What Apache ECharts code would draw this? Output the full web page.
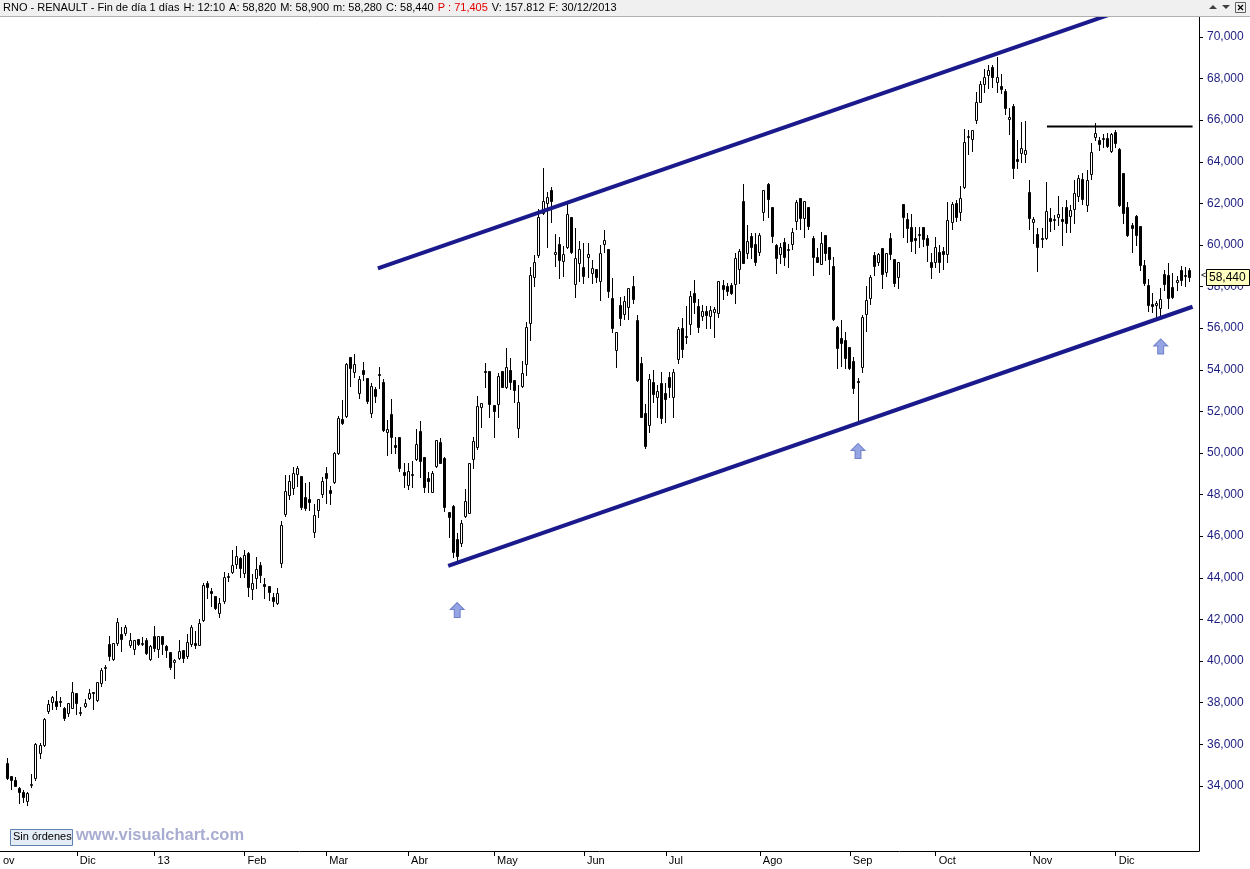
<!DOCTYPE html>
<html><head><meta charset="utf-8">
<script src="https://cdn.jsdelivr.net/npm/echarts@6/dist/echarts.min.js"></script>
<style>html,body{margin:0;padding:0;background:#fff}#c{width:1250px;height:869px}</style>
</head><body><div id="c"></div>
<script>
// ---- data (thousands of EUR) ----
const O = [35.08,34.47,34.26,33.91,33.72,33.25,34.05,34.36,35.56,35.94,37.58,38.01,38.08,38.08,37.74,37.52,37.76,38.44,37.56,37.85,38.24,38.51,38.14,38.93,39.68,40.82,40.10,40.88,41.30,41.33,40.78,40.56,41.04,40.85,41.01,40.08,41.20,40.56,41.20,40.74,40.43,39.94,40.15,40.53,40.24,40.80,40.85,40.77,41.97,43.77,43.37,43.13,42.32,42.89,44.05,44.30,44.65,44.97,44.22,45.21,43.45,44.01,44.61,43.70,43.61,43.09,42.80,44.73,47.07,48.00,48.30,48.98,48.89,47.87,47.77,46.20,47.26,48.03,49.02,48.22,48.59,50.02,51.64,51.80,54.63,53.91,52.87,53.99,53.59,51.91,53.06,53.78,53.40,50.99,51.88,50.38,50.75,49.10,48.46,48.98,49.73,51.07,49.82,48.80,48.14,49.39,50.51,49.77,47.16,47.45,45.86,45.66,46.99,47.13,49.70,50.27,52.20,53.96,53.94,52.29,52.35,53.94,53.16,53.99,53.51,51.19,53.24,54.26,56.24,58.45,59.52,61.55,62.00,62.64,59.55,60.03,59.25,59.89,61.33,58.11,59.15,58.96,59.44,58.67,58.83,58.29,60.03,59.79,57.44,54.95,57.12,56.68,57.00,58.03,56.39,54.31,51.91,51.35,53.40,52.71,53.35,52.88,53.67,52.71,54.50,55.99,55.63,56.19,57.71,57.07,56.60,56.83,56.60,56.80,56.75,58.08,58.03,58.08,58.11,58.83,62.12,59.60,60.43,60.05,59.68,61.60,62.93,61.81,60.00,59.57,60.16,59.78,60.03,61.15,62.24,61.28,61.81,60.32,59.41,59.07,60.48,59.92,58.99,56.07,55.51,55.43,55.11,54.42,53.46,54.15,56.67,57.44,59.52,59.20,59.84,58.72,60.32,59.31,58.48,61.97,61.23,60.85,60.35,60.53,60.88,60.32,59.20,59.20,59.68,59.71,59.55,61.12,62.00,61.57,62.77,65.20,65.08,66.01,66.89,67.74,68.17,68.57,67.85,67.64,67.40,66.04,66.70,64.12,64.44,64.36,62.56,61.12,60.53,60.35,60.32,61.28,61.25,61.36,61.25,61.84,61.39,61.73,62.36,63.17,61.92,63.40,65.21,65.05,65.10,65.13,64.52,65.45,64.60,63.48,61.81,60.96,61.41,60.91,59.04,58.08,57.15,57.12,56.96,58.61,58.56,57.99,58.21,58.80,58.56,58.82];
const H = [35.32,34.47,34.42,33.96,33.80,33.70,34.56,36.04,36.04,37.27,38.12,38.32,38.56,38.25,37.80,38.00,38.99,38.44,37.80,38.17,38.65,38.52,38.97,39.66,39.81,41.20,40.88,42.08,41.65,41.73,41.33,40.99,41.04,41.14,41.09,40.78,41.68,41.20,41.20,40.77,40.43,40.08,41.01,40.53,41.30,41.73,41.44,42.00,43.73,43.85,43.49,43.13,43.01,44.26,44.22,45.34,45.53,45.02,45.34,45.24,44.18,45.02,44.78,43.97,43.61,43.25,43.49,46.73,48.94,48.94,49.34,49.38,48.89,48.54,48.62,47.55,47.77,48.86,49.34,48.43,50.06,51.78,52.55,54.34,54.63,54.76,53.72,54.39,53.62,53.35,53.19,54.15,53.56,51.59,52.60,50.75,50.75,49.50,49.50,49.61,51.14,51.55,49.82,49.10,49.15,50.62,50.70,49.82,47.16,47.50,46.14,46.78,48.25,49.50,50.78,52.74,52.39,54.31,53.94,52.29,53.86,53.94,55.03,54.55,53.51,53.27,54.42,56.31,58.96,59.52,61.72,63.69,62.56,62.80,60.53,60.37,59.95,62.00,61.36,60.80,60.21,60.08,60.08,59.28,58.83,60.00,60.72,59.79,58.40,55.83,57.49,57.55,57.92,58.51,56.63,54.63,52.36,53.80,53.99,53.27,53.91,53.35,53.91,54.04,56.07,56.47,57.07,57.80,58.32,57.39,57.12,57.07,57.07,57.03,58.27,58.32,58.16,58.16,59.60,59.79,62.93,60.96,60.56,60.59,60.56,62.64,62.97,61.81,60.05,60.08,60.32,60.05,60.80,62.16,62.24,62.12,61.81,60.43,59.84,60.64,60.48,59.92,59.41,56.12,56.39,55.83,55.11,54.63,53.59,56.63,58.03,58.56,59.68,59.63,59.84,59.63,60.56,59.31,59.20,61.97,61.52,61.49,60.88,60.88,60.88,60.48,59.60,60.40,60.00,59.92,62.08,62.08,62.16,62.84,65.56,65.53,65.51,67.37,67.90,68.45,68.65,68.65,69.05,68.22,67.50,66.60,66.80,65.05,65.90,65.96,63.12,61.33,60.80,60.80,63.04,61.79,61.44,62.36,61.84,62.16,61.92,63.12,63.36,63.44,63.60,64.92,65.88,65.21,65.34,65.37,65.40,65.53,64.65,63.48,62.08,61.04,61.44,60.91,59.28,58.35,57.68,57.32,57.92,58.80,59.15,58.64,58.51,59.01,58.96,58.90];
const L = [34.31,33.83,33.98,33.16,33.22,33.09,33.93,34.30,35.32,35.90,37.48,37.68,37.68,37.85,37.16,37.36,37.76,37.45,37.40,37.80,38.16,37.71,38.09,38.80,39.09,40.05,40.05,40.77,40.50,41.25,40.69,40.32,40.78,40.77,40.34,40.05,40.50,40.21,40.34,40.18,39.60,39.17,40.11,39.97,40.13,40.72,40.61,40.77,41.94,43.01,42.65,42.49,42.10,42.81,43.86,44.22,44.49,44.05,44.02,43.13,42.98,43.49,43.81,43.01,42.94,42.65,42.73,44.54,46.99,47.80,48.03,48.41,47.31,47.26,47.26,45.95,46.90,47.90,47.61,47.55,48.54,49.94,51.40,51.71,53.24,53.67,52.63,53.51,52.39,51.75,52.44,53.11,51.07,49.90,49.98,49.98,49.13,48.38,48.25,48.38,49.66,48.83,48.14,48.11,48.11,49.34,49.53,47.23,45.98,45.02,44.86,45.53,46.94,47.10,49.26,50.21,51.23,53.19,51.75,50.75,51.75,53.19,53.11,53.06,52.47,50.79,53.19,53.75,55.43,58.03,59.44,61.49,59.89,61.12,58.99,58.40,58.51,59.84,59.63,57.52,58.29,58.19,58.45,58.19,58.24,57.36,59.65,57.48,55.83,54.15,56.15,56.43,56.43,57.23,53.46,51.75,50.23,51.03,52.47,51.72,51.46,51.51,52.71,51.72,54.34,54.63,55.30,55.72,56.71,55.83,56.39,55.99,55.99,55.59,56.55,57.39,57.60,57.65,57.23,58.19,59.15,59.36,59.36,59.04,59.52,61.20,61.36,60.16,58.64,59.15,59.04,58.96,59.81,60.75,60.75,60.40,60.75,58.56,59.17,59.07,59.28,58.59,56.39,54.07,54.18,54.07,54.02,52.90,51.59,53.91,55.88,57.16,58.56,59.04,57.92,58.53,59.31,58.03,57.92,60.40,60.13,59.71,59.63,59.92,59.95,59.24,58.40,58.96,58.72,58.83,59.20,60.77,61.17,61.20,62.72,64.36,64.54,65.88,66.89,67.37,67.53,67.58,67.37,67.29,66.30,65.34,63.20,63.69,64.01,63.97,60.75,60.08,58.77,59.89,60.27,60.69,60.75,60.96,60.00,60.64,60.64,61.04,62.13,61.97,61.65,63.17,65.05,64.57,64.73,64.70,64.49,64.73,61.87,61.04,60.43,59.68,60.00,58.80,58.08,56.84,56.79,56.55,56.55,57.84,56.95,57.44,57.84,58.08,58.03,58.28];
const C = [34.39,34.28,34.00,33.70,33.44,33.65,34.10,36.01,35.96,37.21,37.93,38.25,37.85,38.06,37.27,37.96,38.49,37.96,37.56,37.96,38.44,38.44,38.97,39.57,39.72,40.24,40.88,41.86,41.04,41.65,41.01,40.99,40.83,40.87,40.37,40.72,40.61,41.20,40.80,40.51,39.70,40.05,40.48,40.13,40.90,41.64,40.77,41.81,43.67,43.57,43.29,42.53,42.77,44.05,44.07,44.60,45.05,44.46,45.10,43.57,43.77,44.42,44.14,43.62,43.33,42.90,43.25,46.52,48.17,48.65,49.02,49.26,47.42,47.34,47.66,47.00,47.77,48.65,48.78,48.09,49.98,51.70,51.43,54.28,54.07,54.28,53.56,53.80,52.52,53.22,52.76,53.76,51.11,51.15,50.79,50.30,49.30,48.94,49.13,48.99,50.43,49.63,48.38,48.67,49.05,50.62,49.53,47.42,46.94,45.26,45.06,46.62,47.68,49.50,50.58,52.26,52.39,53.93,52.35,52.03,53.70,53.19,54.12,53.43,53.03,52.44,53.83,56.04,58.54,59.20,61.33,62.13,62.29,62.13,59.68,59.28,59.57,61.49,59.68,59.36,59.79,58.53,59.55,58.88,58.45,59.60,60.24,57.79,55.99,55.80,56.47,57.31,57.92,57.39,53.51,51.75,50.34,53.56,52.82,52.98,51.70,52.58,53.19,53.88,55.95,54.98,55.58,57.56,57.28,56.07,56.83,56.63,56.88,56.92,58.27,57.89,57.81,57.71,59.36,59.73,59.15,60.19,59.89,59.20,60.48,62.64,62.20,60.43,59.36,59.89,59.41,59.80,60.61,62.05,61.28,62.12,60.93,59.44,59.17,60.08,59.60,59.31,56.44,55.06,55.27,54.55,54.10,53.14,53.40,56.55,57.36,58.45,59.01,59.57,58.59,59.60,59.57,58.16,59.20,61.33,60.83,60.21,60.24,60.55,60.27,60.00,58.96,59.92,59.20,59.55,61.20,61.96,61.36,62.24,64.94,65.22,65.51,66.89,67.74,68.06,68.41,68.06,68.09,67.48,66.60,66.13,63.69,64.05,64.65,64.57,61.31,61.25,59.89,60.27,61.63,61.15,61.27,61.49,61.17,61.07,61.68,62.48,63.20,62.23,63.12,64.47,65.37,64.84,65.12,64.76,65.34,64.89,61.92,61.52,60.48,60.80,60.48,59.04,58.16,57.12,57.08,57.20,57.39,58.13,57.44,57.52,58.32,58.32,58.56,58.44];

// trading calendar (categories): Euronext days from 08/11/2012 to 30/12/2013
const firstDay = '2012-11-08', lastDay = '2013-12-30';
const holidays = ['2012-12-25','2012-12-26','2013-01-01','2013-03-29','2013-04-01','2013-05-01','2013-12-25','2013-12-26'];
const monthNames = ['13','Feb','Mar','Abr','May','Jun','Jul','Ago','Sep','Oct','Nov','Dic'];
const yTicks = [34,36,38,40,42,44,46,48,50,52,54,56,58,60,62,64,66,68,70];

// drawn studies (x = bar index, y = price)
const upperChannel = [[90.6, 58.87], [289.8, 72.46]];
const lowerChannel = [[107.8, 44.57], [289.8, 57.03]];
const resistance = [[254.2, 65.69], [289.8, 65.69]];
const arrowX = [110, 208, 282];
const arrowY = [42.45, 50.10, 55.12];

const headerParts = ['RNO - RENAULT - Fin de día 1 días', 'H: 12:10', 'A: 58,820', 'M: 58,900', 'm: 58,280', 'C: 58,440'];
const headerRed = 'P : 71,405';
const headerEnd = ['V: 157.812', 'F: 30/12/2013'];

// ---- build ----
const dates = [];
{
  const d = new Date(firstDay + 'T12:00:00Z'), end = new Date(lastDay + 'T12:00:00Z');
  while (d <= end) {
    const s = d.toISOString().slice(0, 10), wd = d.getUTCDay();
    if (wd !== 0 && wd !== 6 && holidays.indexOf(s) < 0) dates.push(s);
    d.setUTCDate(d.getUTCDate() + 1);
  }
}
const monthStarts = [];
for (let i = 1; i < dates.length; i++) if (dates[i].slice(5, 7) !== dates[i - 1].slice(5, 7)) monthStarts.push(i);
const candles = O.map((o, i) => [i, o, C[i], L[i], H[i]]);
const fmt = v => v.toFixed(3).replace('.', ',');
const xMin = -1.785, xMax = 291.37;
const lastClose = C[C.length - 1];

const chart = echarts.init(document.getElementById('c'), null, {renderer: 'canvas'});
const FONT = 'Liberation Sans, Arial, sans-serif';
const SP = '{g| }';
const headerText = headerParts.map(p => '{a|' + p + '}').join(SP) + SP + '{r|' + headerRed + '}' + SP + headerEnd.map(p => '{a|' + p + '}').join(SP);
const graphics = [
  {type: 'rect', left: 0, top: 0, z: 100, shape: {width: 1250, height: 16}, style: {fill: '#f0f0f0'}},
  {type: 'line', z: 100, shape: {x1: 0, y1: 16.5, x2: 1250, y2: 16.5}, style: {stroke: '#b0b0b0', lineWidth: 1}},
  {type: 'text', left: 3, top: 2, z: 101, style: {
    text: headerText,
    rich: {
      a: {fill: '#000', fontSize: 11, fontFamily: FONT},
      g: {fill: '#000', fontSize: 11, fontFamily: FONT, width: 4},
      r: {fill: '#e00000', fontSize: 11, fontFamily: FONT}
    }
  }},
  // window buttons at top right of header
  {type: 'polygon', z: 101, shape: {points: [[1209, 9], [1213, 5], [1217, 9]]}, style: {fill: '#404040'}},
  {type: 'polygon', z: 101, shape: {points: [[1222, 5], [1226, 9], [1230, 5]]}, style: {fill: '#404040'}},
  {type: 'rect', z: 101, shape: {x: 1235.5, y: 2.5, width: 10, height: 10}, style: {fill: '#f0f0f0', stroke: '#606060', lineWidth: 1}},
  {type: 'line', z: 102, shape: {x1: 1238, y1: 5, x2: 1243, y2: 10}, style: {stroke: '#000', lineWidth: 1.2}},
  {type: 'line', z: 102, shape: {x1: 1243, y1: 5, x2: 1238, y2: 10}, style: {stroke: '#000', lineWidth: 1.2}},
  {type: 'rect', left: 10, top: 829, z: 100, shape: {width: 62, height: 16}, style: {fill: '#e4ecf6', stroke: '#6080b0', lineWidth: 1}},
  {type: 'text', left: 13, top: 831, z: 101, style: {text: 'Sin órdenes', fill: '#000', fontSize: 11, fontFamily: FONT}},
  {type: 'text', left: 76, top: 827, z: 101, style: {text: 'www.visualchart.com', fill: '#a8acd0', fontSize: 16.5, fontWeight: 'bold', fontFamily: FONT}}
];
chart.setOption({
  animation: false,
  backgroundColor: '#ffffff',
  grid: {left: 0, right: 51, top: 17, bottom: 18, containLabel: false},
  xAxis: {
    type: 'value', min: xMin, max: xMax,
    splitLine: {show: false},
    axisLine: {show: true, onZero: false, lineStyle: {color: '#000', width: 1}},
    axisTick: {show: true, length: 5, customValues: monthStarts, lineStyle: {color: '#000'}},
    axisLabel: {
      customValues: [xMin].concat(monthStarts), margin: 4, align: 'left', padding: [0, 0, 0, 3],
      color: '#000', fontFamily: FONT, fontSize: 11, showMinLabel: true, hideOverlap: false,
      formatter: v => {
        if (v < 0) return 'ov';
        const idx = Math.round(v); const m = parseInt(dates[idx].slice(5, 7), 10);
        return monthNames[m - 1];
      }
    }
  },
  yAxis: {
    type: 'value', position: 'right', min: 30.865, max: 70.96, scale: true,
    splitLine: {show: false},
    axisLine: {show: true, onZero: false, lineStyle: {color: '#000'}},
    axisTick: {show: true, length: 4, customValues: yTicks, lineStyle: {color: '#000'}},
    axisLabel: {customValues: yTicks, formatter: fmt, color: '#1c1c80', fontFamily: FONT, fontSize: 12, margin: 8}
  },
  series: [
    {
      type: 'custom', clip: true, data: candles,
      encode: {x: 0, y: [1, 2, 3, 4]},
      renderItem: (params, api) => {
        const i = api.value(0), o = api.value(1), c = api.value(2), l = api.value(3), h = api.value(4);
        const po = api.coord([i, o]), pc = api.coord([i, c]), pl = api.coord([i, l]), ph = api.coord([i, h]);
        const x = Math.floor(po[0]) + 0.5;
        let top = Math.round(Math.min(po[1], pc[1])) + 0.5, bot = Math.round(Math.max(po[1], pc[1])) + 0.5;
        if (bot - top < 1) bot = top + 1;
        const up = c >= o;
        return {type: 'group', children: [
          {type: 'line', shape: {x1: x, y1: Math.round(ph[1]), x2: x, y2: Math.round(pl[1]) + 1}, style: {stroke: '#000', lineWidth: 1}},
          {type: 'rect', shape: {x: x - 1, y: top, width: 2, height: bot - top}, style: {fill: up ? '#fff' : '#000', stroke: '#000', lineWidth: 1}}
        ]};
      }
    },
    {type: 'line', data: upperChannel, symbol: 'none', clip: true, lineStyle: {color: '#1a1a8c', width: 4}, z: 5},
    {type: 'line', data: lowerChannel, symbol: 'none', clip: true, lineStyle: {color: '#1a1a8c', width: 4}, z: 5},
    {type: 'line', data: resistance, symbol: 'none', clip: true, lineStyle: {color: '#000', width: 2}, z: 5},
    {
      type: 'scatter', data: arrowX.map((x, i) => [x, arrowY[i]]), z: 6,
      symbol: 'path://M7,0 L14,7 L10,7 L10,15 L4,15 L4,7 L0,7 Z', symbolSize: [14, 15],
      itemStyle: {color: '#7a8fdc', borderColor: '#5a6cc0', borderWidth: 1}
    }
  ],
  graphic: graphics
});
// last-price tag on the price axis
const tagY = chart.convertToPixel({yAxisIndex: 0}, lastClose);
chart.setOption({graphic: graphics.concat([
  {type: 'text', z: 110, x: 1201, y: Math.round(tagY) - 6, style: {text: '<', fill: '#000', fontSize: 9, fontFamily: FONT}},
  {type: 'rect', z: 110, shape: {x: 1206.5, y: Math.round(tagY) - 7.5, width: 43, height: 16}, style: {fill: '#ffffc0', stroke: '#000', lineWidth: 1}},
  {type: 'text', z: 111, x: 1209, y: Math.round(tagY) - 5, style: {text: fmt(lastClose), fill: '#000', fontSize: 12, fontFamily: FONT}}
])});
</script></body></html>
